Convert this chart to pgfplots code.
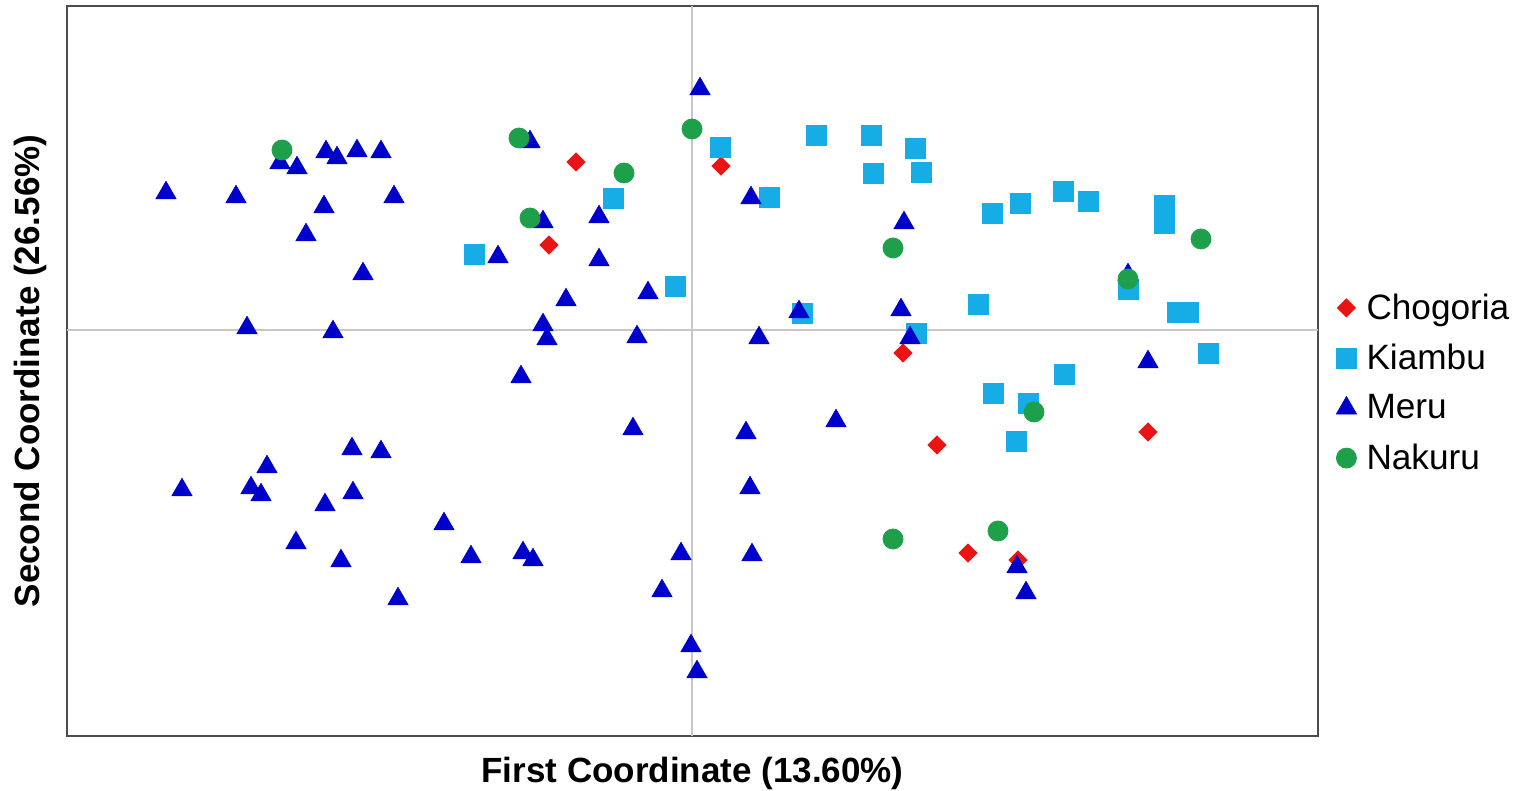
\documentclass[border=0pt]{standalone}
\usepackage{pgfplots}
\pgfplotsset{compat=1.18}
\usepackage{fontspec}
\setmainfont{Liberation Sans}
\definecolor{chog}{RGB}{235,20,20}
\definecolor{kiam}{RGB}{22,172,230}
\definecolor{meru}{RGB}{0,0,205}
\definecolor{naku}{RGB}{30,160,75}
\begin{document}
\begin{tikzpicture}
\useasboundingbox (0,0) rectangle (758.5pt,395.5pt);
\begin{axis}[
 at={(33.5pt,27.5pt)}, anchor=south west,
 scale only axis, width=625.5pt, height=365pt,
 xmin=-625, xmax=626, ymin=-406, ymax=324,
 xtick=\empty, ytick=\empty,
 extra x ticks={0}, extra y ticks={0},
 extra x tick labels={}, extra y tick labels={},
 extra tick style={grid=major, major tick length=0pt, grid style={black!22, line width=0.7pt}},
 axis line style={black!70, line width=1pt},
 xlabel={First Coordinate (13.60\%)}, ylabel={Second Coordinate (26.56\%)},
 label style={font=\fontsize{17.5}{20}\selectfont\bfseries},
 xlabel style={at={(axis description cs:0.5,-0.0288)}, anchor=north, inner sep=0pt},
 ylabel style={at={(axis description cs:-0.0296,0.5)}, anchor=center, inner sep=0pt},
 legend style={at={(axis description cs:1,0.4836)}, anchor=west, xshift=9pt, draw=none, fill=none, font=\fontsize{17.6}{21}\selectfont, row sep=7pt, inner sep=0pt, /tikz/every odd column/.append style={column sep=3pt}},
 legend cell align=left,
 legend image code/.code={\draw[mark repeat=2,mark phase=2] plot coordinates {(0pt,0pt) (5pt,0pt) (10pt,0pt)};},
]
% Chogoria
\addplot[only marks, color=chog, mark=square*, mark size=3.2pt, mark options={rotate=45}] coordinates {
(-116,168) (29,164) (-143,85) (211,-23) (245,-115) (456,-102) (276,-223) (326,-230)
};
\addlegendentry{Chogoria}
% Kiambu
\addplot[only marks, color=kiam, mark=square*, mark size=5pt] coordinates {
(28,183) (124,195) (179,195) (223,182) (181,157) (229,158) (77,133) (-79,132)
(-218,76) (-17,44) (110,17) (300,117) (328,127) (371,139) (396,129) (472,125)
(472,107) (286,26) (436,41) (485,18) (496,18) (224,-3) (516,-23) (372,-44)
(301,-63) (336,-73) (324,-111)
};
\addlegendentry{Kiambu}
% Meru
\addplot[only marks, color=meru, mark=triangle*, mark size=5.8pt] coordinates {
(8,241) (-526,137) (-456,133) (-412,167) (-395,162) (-366,178) (-355,172) (-335,179)
(-311,178) (-298,133) (-368,123) (-386,95) (-329,56) (-445,2) (-359,-2) (-162,188)
(-149,108) (-194,73) (-93,113) (-93,70) (-126,30) (-44,37) (-149,5) (-145,-9)
(-55,-7) (-171,-47) (59,132) (212,107) (209,20) (107,18) (218,-8) (67,-8)
(436,55) (456,-32) (-59,-99) (54,-103) (144,-91) (-340,-119) (-311,-122) (-425,-137)
(-510,-160) (-441,-158) (-431,-165) (-367,-175) (-339,-163) (-248,-194) (-396,-213) (-351,-231)
(-294,-269) (-221,-227) (-169,-223) (-159,-230) (-11,-224) (-30,-261) (-1,-316) (5,-342)
(58,-158) (60,-225) (325,-237) (334,-263)
};
\addlegendentry{Meru}
% Nakuru
\addplot[only marks, color=naku, mark=*, mark size=5pt] coordinates {
(-410,180) (-173,192) (0,201) (-68,157) (-162,112) (201,82) (509,91) (436,51)
(342,-82) (306,-201) (201,-209)
};
\addlegendentry{Nakuru}
\end{axis}
\end{tikzpicture}
\end{document}
